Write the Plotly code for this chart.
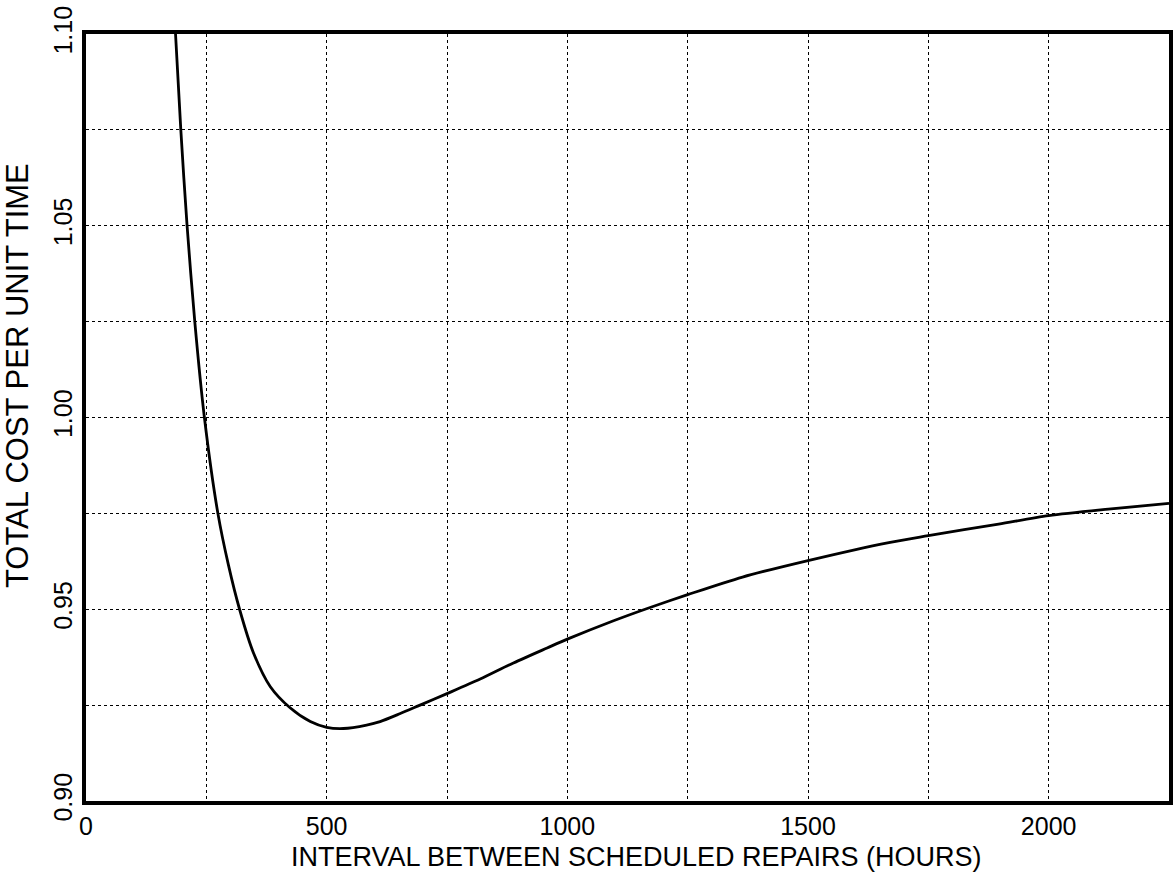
import plotly.graph_objects as go

# Data
interval_hours = [186, 197, 210, 226, 246, 274, 296, 319, 348, 383, 424, 466,
                  500, 535, 583, 611, 653, 694, 750, 819, 888, 958, 1000, 1096, 1166,
                  1250, 1364, 1500, 1668, 1750, 1896, 2000, 2124, 2250]
total_cost = [1.100, 1.075, 1.050, 1.025, 1.000, 0.975, 0.9615, 0.950,
              0.9386, 0.9298, 0.9243, 0.9207, 0.9192, 0.9189, 0.9198, 0.9207, 0.9228,
              0.9250, 0.9280, 0.9318, 0.9360, 0.9399, 0.9422, 0.9470, 0.9502, 0.9538,
              0.9584, 0.9627, 0.9674, 0.9692, 0.9722, 0.9744, 0.9761, 0.9776]

x_tick_vals = [0, 500, 1000, 1500, 2000]
x_tick_text = ["0", "500", "1000", "1500", "2000"]
y_tick_vals = [0.90, 0.95, 1.00, 1.05, 1.10]
y_tick_text = ["0.90", "0.95", "1.00", "1.05", "1.10"]

x_title = "INTERVAL BETWEEN SCHEDULED REPAIRS (HOURS)"
y_title = "TOTAL COST PER UNIT TIME"

FONT = "Liberation Sans, Arial, sans-serif"

fig = go.Figure()
fig.add_trace(go.Scatter(
    x=interval_hours, y=total_cost, mode="lines",
    line=dict(color="black", width=2.8, shape="spline", smoothing=0.8),
    showlegend=False, hoverinfo="skip",
))

fig.update_layout(
    width=1175, height=887,
    margin=dict(l=86, r=6, t=34, b=86),
    paper_bgcolor="white", plot_bgcolor="white",
    font=dict(family=FONT, color="black", size=24),
)

grid = dict(showgrid=True, gridcolor="black", gridwidth=1, griddash="dot")

fig.update_xaxes(
    range=[0, 2250], automargin=False,
    tickvals=x_tick_vals, ticktext=x_tick_text,
    minor=dict(dtick=250, tick0=0, **grid), **grid,
    showline=True, linecolor="black", linewidth=3.5, mirror=True,
    ticks="", zeroline=False, ticklabelstandoff=0,
    tickfont=dict(size=25, family=FONT),
)

fig.update_yaxes(
    range=[0.90, 1.10], automargin=False,
    tickvals=y_tick_vals, ticktext=y_tick_text, tickangle=-90,
    minor=dict(dtick=0.025, tick0=0.9, **grid), **grid,
    showline=True, linecolor="black", linewidth=3.5, mirror=True,
    ticks="", zeroline=False, ticklabelstandoff=0,
    tickfont=dict(size=25, family=FONT),
)

fig.add_annotation(
    text=x_title, xref="paper", yref="paper", x=0.508, y=-0.073,
    xanchor="center", yanchor="middle", showarrow=False,
    font=dict(size=27, family=FONT, color="black"),
)
fig.add_annotation(
    text=y_title, xref="paper", yref="paper", x=-0.063, y=0.555,
    xanchor="center", yanchor="middle", showarrow=False, textangle=-90,
    font=dict(size=31, family=FONT, color="black"),
)

# remove the default page margin so the figure sits at the window's top-left corner
fig.write_html("out.html", config={"displayModeBar": False},
               post_script="document.body.style.margin='0';")
